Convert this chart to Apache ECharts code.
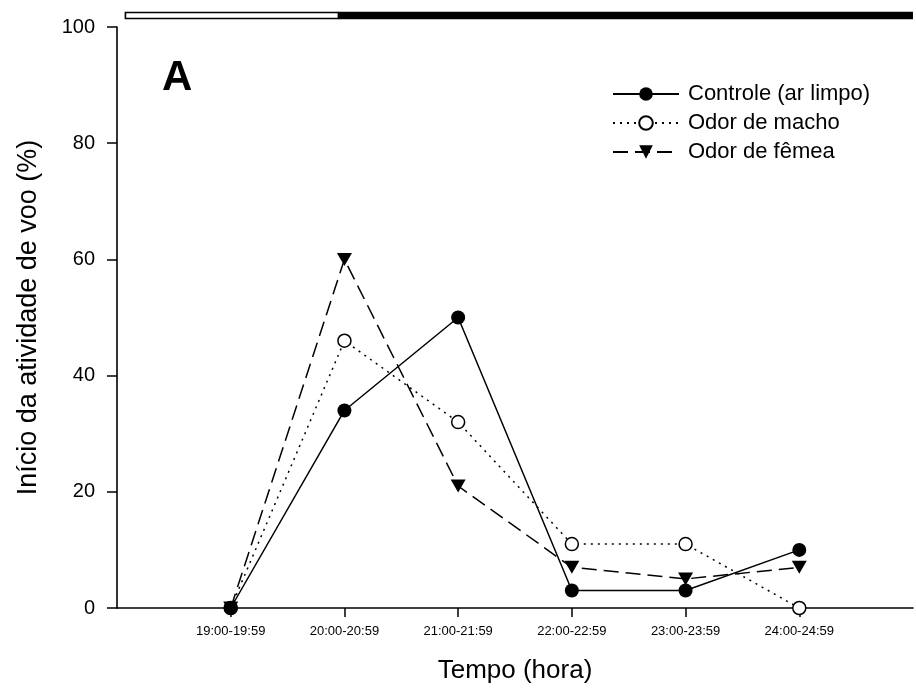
<!DOCTYPE html>
<html><head><meta charset="utf-8">
<script src="https://cdn.jsdelivr.net/npm/echarts@6/dist/echarts.min.js"></script>
<style>html,body{margin:0;padding:0;background:#fff}#c{width:916px;height:693px}</style>
</head><body><div id="c"></div>
<script>
var categories = ['', '19:00-19:59', '20:00-20:59', '21:00-21:59', '22:00-22:59', '23:00-23:59', '24:00-24:59', ''];
var controle = [0, 34, 50, 3, 3, 10];
var macho = [0, 46, 32, 11, 11, 0];
var femea = [0, 60, 21, 7, 5, 7];
var yTicks = [0, 20, 40, 60, 80, 100];
var lightBar = [0.074, 1.947];   // light period (category index units)
var darkBar = [1.947, 7];        // dark period

function pairs(vals){ return vals.map(function(v,i){ return [categories[i+1], v]; }); }
var FONT = 'Liberation Sans, Arial, sans-serif';
var chart = echarts.init(document.getElementById('c'));
var option = {
  animation: false,
  backgroundColor: '#fff',
  grid: {left: 117, right: -6, top: 27, bottom: 85, containLabel: false},
  xAxis: {
    type: 'category', data: categories, boundaryGap: false,
    name: 'Tempo (hora)', nameLocation: 'middle', nameGap: 50,
    nameTextStyle: {fontFamily: FONT, fontSize: 26, color: '#000'},
    axisLine: {lineStyle: {color: '#000', width: 1.6}},
    axisTick: {length: 9, lineStyle: {color: '#000', width: 1.5},
      interval: function(i, v){ return v !== ''; }},
    axisLabel: {fontFamily: FONT, fontSize: 13, color: '#000', margin: 17, interval: 0},
    splitLine: {show: false}
  },
  yAxis: {
    type: 'value', min: 0, max: 100, interval: 20,
    name: 'Início da atividade de voo (%)', nameLocation: 'middle', nameGap: 75,
    nameTextStyle: {fontFamily: FONT, fontSize: 27, color: '#000'},
    axisLine: {show: true, lineStyle: {color: '#000', width: 1.6}},
    axisTick: {show: true, length: 10, lineStyle: {color: '#000', width: 1.5}},
    axisLabel: {fontFamily: FONT, fontSize: 20, color: '#000', margin: 22,
      formatter: function(v){ return yTicks.indexOf(v) >= 0 ? String(v) : ''; }},
    splitLine: {show: false}
  },
  legend: {
    left: 607, top: 78, orient: 'vertical', itemGap: 7, itemWidth: 66, itemHeight: 17,
    textStyle: {fontFamily: FONT, fontSize: 22, color: '#000', padding: [0, 0, 0, 4]},
    data: ['Controle (ar limpo)', 'Odor de macho', 'Odor de fêmea']
  },
  series: [
    {name: 'Controle (ar limpo)', type: 'line', data: pairs(controle),
     symbol: 'circle', symbolSize: 14,
     itemStyle: {color: '#000'}, lineStyle: {color: '#000', width: 1.5}, z: 3},
    {name: 'Odor de macho', type: 'line', data: pairs(macho),
     symbol: 'circle', symbolSize: 13,
     itemStyle: {color: '#fff', borderColor: '#000', borderWidth: 1.5},
     lineStyle: {color: '#000', width: 1.5, type: [2, 5]}, z: 2},
    {name: 'Odor de fêmea', type: 'line', data: pairs(femea),
     symbol: 'triangle', symbolSize: [15, 13], symbolRotate: 180,
     itemStyle: {color: '#000'}, lineStyle: {color: '#000', width: 1.5, type: [15, 7]}, z: 2}
  ]
};
chart.setOption(option);
// top light/dark bar, positioned via the category axis scale
var a0 = chart.convertToPixel({gridIndex: 0}, [0, 100]);
var a1 = chart.convertToPixel({gridIndex: 0}, [1, 100]);
var step = a1[0] - a0[0];
function px(f){ return a0[0] + f * step; }
var yTop = a0[1];
chart.setOption({graphic: [
  {type: 'text', left: 162, top: 57,
   style: {text: 'A', fontFamily: FONT, fontSize: 42, fontWeight: 'bold', fill: '#000'}},
  {type: 'rect', shape: {x: px(lightBar[0]), y: yTop - 14.5, width: px(lightBar[1]) - px(lightBar[0]), height: 6},
   style: {fill: '#fff', stroke: '#000', lineWidth: 1.6}},
  {type: 'rect', shape: {x: px(darkBar[0]), y: yTop - 15.3, width: px(darkBar[1]) - px(darkBar[0]), height: 7.6},
   style: {fill: '#000'}}
]});
</script></body></html>
